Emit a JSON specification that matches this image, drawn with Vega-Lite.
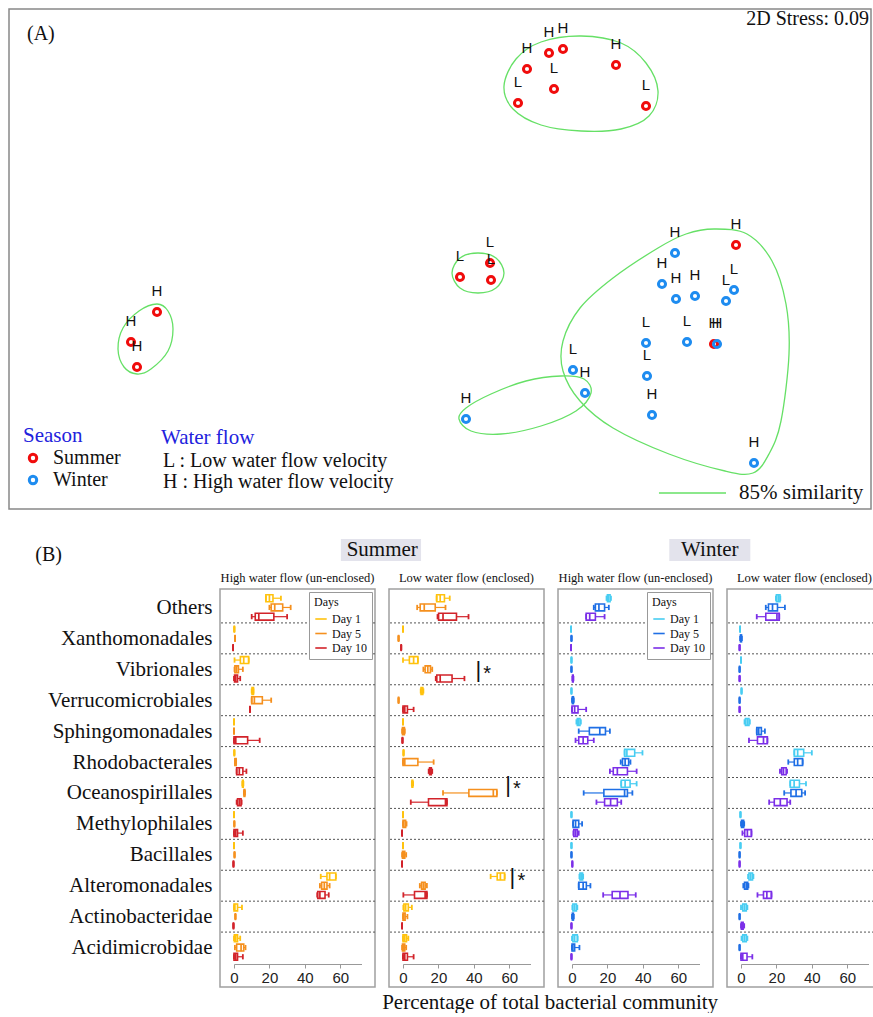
{
"$schema":"https://vega.github.io/schema/vega-lite/v6.json",
"padding":{"left":8,"top":8,"right":0,"bottom":0},
"background":"white",
"config":{"font":"Liberation Serif"},
"datasets":{
"taxa":[{"t":"Others"},{"t":"Xanthomonadales"},{"t":"Vibrionales"},{"t":"Verrucomicrobiales"},{"t":"Sphingomonadales"},{"t":"Rhodobacterales"},{"t":"Oceanospirillales"},{"t":"Methylophilales"},{"t":"Bacillales"},{"t":"Alteromonadales"},{"t":"Actinobacteridae"},{"t":"Acidimicrobidae"}],
"header":[{"lab":"(B)","pos":4.6},{"lab":"Summer","pos":43.3,"x1":38.5,"x2":47.8},{"lab":"Winter","pos":81.3,"x1":76.6,"x2":86.0}],
"annot":[{"lab":"(A)","x":-2.065,"y":1.125,"k":"L"},{"lab":"L : Low water flow velocity","x":-1.385,"y":-1.01,"k":"L"},{"lab":"H : High water flow velocity","x":-1.385,"y":-1.115,"k":"L"},{"lab":"Water flow","x":-1.395,"y":-0.895,"k":"B"},{"lab":"2D Stress: 0.09","x":2.145,"y":1.2,"k":"R"}],
"nmds":[
{"s":"Summer","f":"H","x":0.435,"y":0.95},{"s":"Summer","f":"H","x":0.545,"y":1.03},{"s":"Summer","f":"H","x":0.615,"y":1.05},{"s":"Summer","f":"H","x":0.88,"y":0.97},{"s":"Summer","f":"L","x":0.57,"y":0.85},{"s":"Summer","f":"L","x":0.39,"y":0.78},{"s":"Summer","f":"L","x":1.03,"y":0.765},
{"s":"Summer","f":"H","x":-1.415,"y":-0.265},{"s":"Summer","f":"H","x":-1.545,"y":-0.415},{"s":"Summer","f":"H","x":-1.515,"y":-0.54},
{"s":"Summer","f":"L","x":0.25,"y":-0.02},{"s":"Summer","f":"L","x":0.10,"y":-0.09},{"s":"Summer","f":"L","x":0.255,"y":-0.105},
{"s":"Summer","f":"H","x":1.48,"y":0.07},{"s":"Summer","f":"H","x":1.37,"y":-0.425},
{"s":"Winter","f":"H","x":1.175,"y":0.03},{"s":"Winter","f":"H","x":1.11,"y":-0.125},{"s":"Winter","f":"H","x":1.18,"y":-0.20},{"s":"Winter","f":"H","x":1.275,"y":-0.185},{"s":"Winter","f":"L","x":1.47,"y":-0.155},{"s":"Winter","f":"L","x":1.43,"y":-0.21},{"s":"Winter","f":"L","x":1.03,"y":-0.42},{"s":"Winter","f":"L","x":1.235,"y":-0.415},{"s":"Winter","f":"H","x":1.385,"y":-0.425},{"s":"Winter","f":"L","x":1.035,"y":-0.585},{"s":"Winter","f":"L","x":0.665,"y":-0.555},{"s":"Winter","f":"H","x":0.725,"y":-0.67},{"s":"Winter","f":"H","x":1.06,"y":-0.78},{"s":"Winter","f":"H","x":0.13,"y":-0.80},{"s":"Winter","f":"H","x":1.57,"y":-1.02}],
"hulls":[
{"h":1,"o":1,"x":0.32,"y":0.865,"s":"85% similarity"},{"h":1,"o":2,"x":0.38,"y":1.0,"s":"85% similarity"},{"h":1,"o":3,"x":0.505,"y":1.085,"s":"85% similarity"},{"h":1,"o":4,"x":0.705,"y":1.115,"s":"85% similarity"},{"h":1,"o":5,"x":0.905,"y":1.08,"s":"85% similarity"},{"h":1,"o":6,"x":1.03,"y":0.98,"s":"85% similarity"},{"h":1,"o":7,"x":1.09,"y":0.84,"s":"85% similarity"},{"h":1,"o":8,"x":1.045,"y":0.715,"s":"85% similarity"},{"h":1,"o":9,"x":0.905,"y":0.65,"s":"85% similarity"},{"h":1,"o":10,"x":0.705,"y":0.64,"s":"85% similarity"},{"h":1,"o":11,"x":0.505,"y":0.67,"s":"85% similarity"},{"h":1,"o":12,"x":0.365,"y":0.75,"s":"85% similarity"},
{"h":2,"o":1,"x":-1.415,"y":-0.225,"s":"85% similarity"},{"h":2,"o":2,"x":-1.36,"y":-0.26,"s":"85% similarity"},{"h":2,"o":3,"x":-1.335,"y":-0.35,"s":"85% similarity"},{"h":2,"o":4,"x":-1.36,"y":-0.46,"s":"85% similarity"},{"h":2,"o":5,"x":-1.445,"y":-0.55,"s":"85% similarity"},{"h":2,"o":6,"x":-1.515,"y":-0.575,"s":"85% similarity"},{"h":2,"o":7,"x":-1.58,"y":-0.54,"s":"85% similarity"},{"h":2,"o":8,"x":-1.61,"y":-0.45,"s":"85% similarity"},{"h":2,"o":9,"x":-1.585,"y":-0.345,"s":"85% similarity"},{"h":2,"o":10,"x":-1.505,"y":-0.26,"s":"85% similarity"},
{"h":3,"o":1,"x":0.19,"y":0.03,"s":"85% similarity"},{"h":3,"o":2,"x":0.28,"y":0.005,"s":"85% similarity"},{"h":3,"o":3,"x":0.32,"y":-0.07,"s":"85% similarity"},{"h":3,"o":4,"x":0.28,"y":-0.145,"s":"85% similarity"},{"h":3,"o":5,"x":0.19,"y":-0.17,"s":"85% similarity"},{"h":3,"o":6,"x":0.10,"y":-0.145,"s":"85% similarity"},{"h":3,"o":7,"x":0.06,"y":-0.07,"s":"85% similarity"},{"h":3,"o":8,"x":0.10,"y":0.005,"s":"85% similarity"},
{"h":4,"o":1,"x":1.37,"y":0.15,"s":"85% similarity"},{"h":4,"o":2,"x":1.535,"y":0.125,"s":"85% similarity"},{"h":4,"o":3,"x":1.66,"y":-0.01,"s":"85% similarity"},{"h":4,"o":4,"x":1.73,"y":-0.225,"s":"85% similarity"},{"h":4,"o":5,"x":1.745,"y":-0.475,"s":"85% similarity"},{"h":4,"o":6,"x":1.705,"y":-0.81,"s":"85% similarity"},{"h":4,"o":7,"x":1.645,"y":-0.975,"s":"85% similarity"},{"h":4,"o":8,"x":1.565,"y":-1.07,"s":"85% similarity"},{"h":4,"o":9,"x":1.425,"y":-1.06,"s":"85% similarity"},{"h":4,"o":10,"x":1.145,"y":-0.975,"s":"85% similarity"},{"h":4,"o":11,"x":0.865,"y":-0.845,"s":"85% similarity"},{"h":4,"o":12,"x":0.70,"y":-0.71,"s":"85% similarity"},{"h":4,"o":13,"x":0.615,"y":-0.56,"s":"85% similarity"},{"h":4,"o":14,"x":0.615,"y":-0.41,"s":"85% similarity"},{"h":4,"o":15,"x":0.70,"y":-0.245,"s":"85% similarity"},{"h":4,"o":16,"x":0.865,"y":-0.095,"s":"85% similarity"},{"h":4,"o":17,"x":1.09,"y":0.055,"s":"85% similarity"},{"h":4,"o":18,"x":1.23,"y":0.125,"s":"85% similarity"},
{"h":5,"o":1,"x":0.095,"y":-0.80,"s":"85% similarity"},{"h":5,"o":2,"x":0.155,"y":-0.86,"s":"85% similarity"},{"h":5,"o":3,"x":0.305,"y":-0.875,"s":"85% similarity"},{"h":5,"o":4,"x":0.505,"y":-0.835,"s":"85% similarity"},{"h":5,"o":5,"x":0.68,"y":-0.76,"s":"85% similarity"},{"h":5,"o":6,"x":0.755,"y":-0.67,"s":"85% similarity"},{"h":5,"o":7,"x":0.72,"y":-0.60,"s":"85% similarity"},{"h":5,"o":8,"x":0.605,"y":-0.585,"s":"85% similarity"},{"h":5,"o":9,"x":0.43,"y":-0.61,"s":"85% similarity"},{"h":5,"o":10,"x":0.255,"y":-0.675,"s":"85% similarity"},{"h":5,"o":11,"x":0.13,"y":-0.745,"s":"85% similarity"}],
"sig":[{"t":"Vibrionales","d":"Day 5","x":42.5},{"t":"Oceanospirillales","d":"Day 1","x":59.3},{"t":"Alteromonadales","d":"Day 1","x":61.8}],
"boxes":[
{"p":"SH","t":"Others","d":"Day 1","lo":18,"q1":18,"md":20,"q3":22,"hi":26.5},
{"p":"SH","t":"Others","d":"Day 5","lo":20,"q1":21,"md":23,"q3":27.5,"hi":32},
{"p":"SH","t":"Others","d":"Day 10","lo":10,"q1":12,"md":14,"q3":22.5,"hi":30},
{"p":"SH","t":"Xanthomonadales","d":"Day 1","lo":0.2,"q1":0.2,"md":0.2,"q3":0.2,"hi":0.2},
{"p":"SH","t":"Xanthomonadales","d":"Day 5","lo":0.6,"q1":0.6,"md":0.6,"q3":0.6,"hi":0.6},
{"p":"SH","t":"Xanthomonadales","d":"Day 10","lo":-0.5,"q1":-0.5,"md":-0.5,"q3":-0.5,"hi":-0.5},
{"p":"SH","t":"Vibrionales","d":"Day 1","lo":0.3,"q1":3.6,"md":5.5,"q3":8.3,"hi":8.3},
{"p":"SH","t":"Vibrionales","d":"Day 5","lo":0.3,"q1":0.5,"md":1.5,"q3":2.5,"hi":5},
{"p":"SH","t":"Vibrionales","d":"Day 10","lo":0,"q1":0.3,"md":1,"q3":2,"hi":3.5},
{"p":"SH","t":"Verrucomicrobiales","d":"Day 1","lo":10,"q1":10.2,"md":10.5,"q3":11,"hi":11},
{"p":"SH","t":"Verrucomicrobiales","d":"Day 5","lo":10,"q1":10,"md":11.5,"q3":16,"hi":21},
{"p":"SH","t":"Verrucomicrobiales","d":"Day 10","lo":9,"q1":9,"md":9,"q3":9,"hi":9},
{"p":"SH","t":"Sphingomonadales","d":"Day 1","lo":0,"q1":0,"md":0,"q3":0,"hi":0},
{"p":"SH","t":"Sphingomonadales","d":"Day 5","lo":0,"q1":0,"md":0,"q3":0,"hi":0},
{"p":"SH","t":"Sphingomonadales","d":"Day 10","lo":0,"q1":0,"md":1,"q3":7.7,"hi":14.5},
{"p":"SH","t":"Rhodobacterales","d":"Day 1","lo":0.2,"q1":0.2,"md":0.2,"q3":0.2,"hi":0.2},
{"p":"SH","t":"Rhodobacterales","d":"Day 5","lo":0.5,"q1":0.5,"md":0.8,"q3":1.2,"hi":1.2},
{"p":"SH","t":"Rhodobacterales","d":"Day 10","lo":1.5,"q1":1.5,"md":3,"q3":5,"hi":7},
{"p":"SH","t":"Oceanospirillales","d":"Day 1","lo":4.7,"q1":4.8,"md":5,"q3":5.2,"hi":5.3},
{"p":"SH","t":"Oceanospirillales","d":"Day 5","lo":5.6,"q1":5.7,"md":5.9,"q3":6.1,"hi":6.2},
{"p":"SH","t":"Oceanospirillales","d":"Day 10","lo":1.5,"q1":2,"md":3,"q3":4,"hi":4.3},
{"p":"SH","t":"Methylophilales","d":"Day 1","lo":0,"q1":0,"md":0,"q3":0,"hi":0},
{"p":"SH","t":"Methylophilales","d":"Day 5","lo":0.2,"q1":0.2,"md":0.2,"q3":0.2,"hi":0.2},
{"p":"SH","t":"Methylophilales","d":"Day 10","lo":0,"q1":0,"md":1,"q3":2,"hi":5},
{"p":"SH","t":"Bacillales","d":"Day 1","lo":0,"q1":0,"md":0,"q3":0,"hi":0},
{"p":"SH","t":"Bacillales","d":"Day 5","lo":0.3,"q1":0.3,"md":0.3,"q3":0.3,"hi":0.3},
{"p":"SH","t":"Bacillales","d":"Day 10","lo":-0.3,"q1":-0.3,"md":-0.3,"q3":-0.3,"hi":-0.3},
{"p":"SH","t":"Alteromonadales","d":"Day 1","lo":49,"q1":52.5,"md":54,"q3":57.5,"hi":57.5},
{"p":"SH","t":"Alteromonadales","d":"Day 5","lo":48.5,"q1":49.5,"md":51,"q3":52.5,"hi":54},
{"p":"SH","t":"Alteromonadales","d":"Day 10","lo":47,"q1":47.3,"md":48.5,"q3":51.4,"hi":53.5},
{"p":"SH","t":"Actinobacteridae","d":"Day 1","lo":0,"q1":0,"md":0.5,"q3":2,"hi":4.5},
{"p":"SH","t":"Actinobacteridae","d":"Day 5","lo":0.8,"q1":0.8,"md":0.8,"q3":0.8,"hi":0.8},
{"p":"SH","t":"Actinobacteridae","d":"Day 10","lo":-0.3,"q1":-0.3,"md":-0.3,"q3":-0.3,"hi":-0.3},
{"p":"SH","t":"Acidimicrobidae","d":"Day 1","lo":0,"q1":0.2,"md":1,"q3":2,"hi":3.5},
{"p":"SH","t":"Acidimicrobidae","d":"Day 5","lo":0.5,"q1":1.5,"md":4,"q3":5.5,"hi":6.5},
{"p":"SH","t":"Acidimicrobidae","d":"Day 10","lo":0,"q1":0,"md":1,"q3":2,"hi":5},
{"p":"SL","t":"Others","d":"Day 1","lo":19,"q1":19,"md":21,"q3":23.4,"hi":26.4},
{"p":"SL","t":"Others","d":"Day 5","lo":8,"q1":9.7,"md":12,"q3":18.2,"hi":24},
{"p":"SL","t":"Others","d":"Day 10","lo":19.5,"q1":20.1,"md":22.6,"q3":30.2,"hi":37},
{"p":"SL","t":"Xanthomonadales","d":"Day 1","lo":0,"q1":0,"md":0,"q3":0,"hi":0},
{"p":"SL","t":"Xanthomonadales","d":"Day 5","lo":-2.5,"q1":-2.5,"md":-2.5,"q3":-2.5,"hi":-2.5},
{"p":"SL","t":"Xanthomonadales","d":"Day 10","lo":-1,"q1":-1,"md":-1,"q3":-1,"hi":-1},
{"p":"SL","t":"Vibrionales","d":"Day 1","lo":0,"q1":3.6,"md":6,"q3":8.4,"hi":8.4},
{"p":"SL","t":"Vibrionales","d":"Day 5","lo":11.5,"q1":12.5,"md":14,"q3":15.5,"hi":16.5},
{"p":"SL","t":"Vibrionales","d":"Day 10","lo":18.5,"q1":19.1,"md":21,"q3":27.7,"hi":34.7},
{"p":"SL","t":"Verrucomicrobiales","d":"Day 1","lo":10,"q1":10.2,"md":10.6,"q3":11.2,"hi":11.5},
{"p":"SL","t":"Verrucomicrobiales","d":"Day 5","lo":-2.5,"q1":-2.5,"md":-2.5,"q3":-2.5,"hi":-2.5},
{"p":"SL","t":"Verrucomicrobiales","d":"Day 10","lo":0,"q1":0,"md":1,"q3":2.5,"hi":6},
{"p":"SL","t":"Sphingomonadales","d":"Day 1","lo":0,"q1":0,"md":0,"q3":0,"hi":0},
{"p":"SL","t":"Sphingomonadales","d":"Day 5","lo":-0.5,"q1":-0.3,"md":0.2,"q3":0.8,"hi":1},
{"p":"SL","t":"Sphingomonadales","d":"Day 10","lo":-0.3,"q1":-0.3,"md":-0.3,"q3":-0.3,"hi":-0.3},
{"p":"SL","t":"Rhodobacterales","d":"Day 1","lo":0.3,"q1":0.3,"md":0.3,"q3":0.3,"hi":0.3},
{"p":"SL","t":"Rhodobacterales","d":"Day 5","lo":0,"q1":0,"md":1,"q3":8.4,"hi":17.3},
{"p":"SL","t":"Rhodobacterales","d":"Day 10","lo":14.5,"q1":15,"md":15.4,"q3":16,"hi":16.5},
{"p":"SL","t":"Oceanospirillales","d":"Day 1","lo":5,"q1":5.1,"md":5.3,"q3":5.5,"hi":5.7},
{"p":"SL","t":"Oceanospirillales","d":"Day 5","lo":22.6,"q1":37.2,"md":51,"q3":53,"hi":53},
{"p":"SL","t":"Oceanospirillales","d":"Day 10","lo":4.4,"q1":14.4,"md":24,"q3":24.8,"hi":24.8},
{"p":"SL","t":"Methylophilales","d":"Day 1","lo":0,"q1":0,"md":0,"q3":0,"hi":0},
{"p":"SL","t":"Methylophilales","d":"Day 5","lo":0,"q1":0,"md":0.5,"q3":1.5,"hi":2},
{"p":"SL","t":"Methylophilales","d":"Day 10","lo":-0.5,"q1":-0.5,"md":-0.5,"q3":-0.5,"hi":-0.5},
{"p":"SL","t":"Bacillales","d":"Day 1","lo":0,"q1":0,"md":0,"q3":0,"hi":0},
{"p":"SL","t":"Bacillales","d":"Day 5","lo":-0.5,"q1":-0.3,"md":0.2,"q3":1,"hi":1.8},
{"p":"SL","t":"Bacillales","d":"Day 10","lo":-0.5,"q1":-0.5,"md":-0.5,"q3":-0.5,"hi":-0.5},
{"p":"SL","t":"Alteromonadales","d":"Day 1","lo":49.5,"q1":53.2,"md":55,"q3":57.4,"hi":57.4},
{"p":"SL","t":"Alteromonadales","d":"Day 5","lo":9.5,"q1":10.5,"md":11.5,"q3":12.5,"hi":13.5},
{"p":"SL","t":"Alteromonadales","d":"Day 10","lo":0.2,"q1":6.5,"md":12.5,"q3":13.5,"hi":13.5},
{"p":"SL","t":"Actinobacteridae","d":"Day 1","lo":0.2,"q1":0.5,"md":1.5,"q3":3,"hi":5},
{"p":"SL","t":"Actinobacteridae","d":"Day 5","lo":0,"q1":0,"md":0.5,"q3":1.2,"hi":2.5},
{"p":"SL","t":"Actinobacteridae","d":"Day 10","lo":-0.5,"q1":-0.5,"md":-0.5,"q3":-0.5,"hi":-0.5},
{"p":"SL","t":"Acidimicrobidae","d":"Day 1","lo":0,"q1":0,"md":1,"q3":2,"hi":3},
{"p":"SL","t":"Acidimicrobidae","d":"Day 5","lo":-0.5,"q1":-0.3,"md":0.3,"q3":1,"hi":1.8},
{"p":"SL","t":"Acidimicrobidae","d":"Day 10","lo":0,"q1":0,"md":1,"q3":2.5,"hi":6},
{"p":"WH","t":"Others","d":"Day 1","lo":19.5,"q1":20,"md":20.5,"q3":21.5,"hi":22},
{"p":"WH","t":"Others","d":"Day 5","lo":12.3,"q1":13.2,"md":15.2,"q3":18.4,"hi":20.8},
{"p":"WH","t":"Others","d":"Day 10","lo":8,"q1":8,"md":10,"q3":13.2,"hi":18.4},
{"p":"WH","t":"Xanthomonadales","d":"Day 1","lo":-0.5,"q1":-0.5,"md":-0.5,"q3":-0.5,"hi":-0.5},
{"p":"WH","t":"Xanthomonadales","d":"Day 5","lo":-0.3,"q1":-0.3,"md":-0.3,"q3":-0.3,"hi":-0.3},
{"p":"WH","t":"Xanthomonadales","d":"Day 10","lo":-0.5,"q1":-0.5,"md":-0.5,"q3":-0.5,"hi":-0.5},
{"p":"WH","t":"Vibrionales","d":"Day 1","lo":-0.3,"q1":-0.3,"md":-0.3,"q3":-0.3,"hi":-0.3},
{"p":"WH","t":"Vibrionales","d":"Day 5","lo":-0.3,"q1":-0.3,"md":-0.3,"q3":-0.3,"hi":-0.3},
{"p":"WH","t":"Vibrionales","d":"Day 10","lo":0.2,"q1":0.3,"md":0.5,"q3":0.7,"hi":0.8},
{"p":"WH","t":"Verrucomicrobiales","d":"Day 1","lo":-0.3,"q1":-0.3,"md":-0.3,"q3":-0.3,"hi":-0.3},
{"p":"WH","t":"Verrucomicrobiales","d":"Day 5","lo":0,"q1":0.2,"md":0.5,"q3":0.8,"hi":1},
{"p":"WH","t":"Verrucomicrobiales","d":"Day 10","lo":0,"q1":0,"md":1.5,"q3":3.4,"hi":8},
{"p":"WH","t":"Sphingomonadales","d":"Day 1","lo":2.5,"q1":3,"md":3.5,"q3":4.5,"hi":5},
{"p":"WH","t":"Sphingomonadales","d":"Day 5","lo":3.8,"q1":9.8,"md":15.7,"q3":18.9,"hi":21.4},
{"p":"WH","t":"Sphingomonadales","d":"Day 10","lo":2,"q1":3.8,"md":6.3,"q3":8.9,"hi":12.3},
{"p":"WH","t":"Rhodobacterales","d":"Day 1","lo":29.7,"q1":29.7,"md":31,"q3":35.4,"hi":39.8},
{"p":"WH","t":"Rhodobacterales","d":"Day 5","lo":27.5,"q1":28.5,"md":30,"q3":32,"hi":33},
{"p":"WH","t":"Rhodobacterales","d":"Day 10","lo":21.4,"q1":23.3,"md":25.6,"q3":31.3,"hi":36.5},
{"p":"WH","t":"Oceanospirillales","d":"Day 1","lo":27.8,"q1":27.8,"md":30,"q3":32.8,"hi":36.5},
{"p":"WH","t":"Oceanospirillales","d":"Day 5","lo":6.6,"q1":18,"md":29.7,"q3":31.3,"hi":34.1},
{"p":"WH","t":"Oceanospirillales","d":"Day 10","lo":13.8,"q1":18.4,"md":21.8,"q3":25.6,"hi":27.8},
{"p":"WH","t":"Methylophilales","d":"Day 1","lo":-0.3,"q1":-0.3,"md":-0.3,"q3":-0.3,"hi":-0.3},
{"p":"WH","t":"Methylophilales","d":"Day 5","lo":0.6,"q1":0.6,"md":2,"q3":3.8,"hi":5.7},
{"p":"WH","t":"Methylophilales","d":"Day 10","lo":0.8,"q1":1,"md":2,"q3":3,"hi":3.8},
{"p":"WH","t":"Bacillales","d":"Day 1","lo":-0.3,"q1":-0.3,"md":-0.3,"q3":-0.3,"hi":-0.3},
{"p":"WH","t":"Bacillales","d":"Day 5","lo":-0.3,"q1":-0.3,"md":-0.3,"q3":-0.3,"hi":-0.3},
{"p":"WH","t":"Bacillales","d":"Day 10","lo":0.2,"q1":0.2,"md":0.2,"q3":0.2,"hi":0.2},
{"p":"WH","t":"Alteromonadales","d":"Day 1","lo":4.2,"q1":4.5,"md":5.2,"q3":6,"hi":6.3},
{"p":"WH","t":"Alteromonadales","d":"Day 5","lo":3.8,"q1":3.8,"md":6.3,"q3":8.1,"hi":10.4},
{"p":"WH","t":"Alteromonadales","d":"Day 10","lo":17.6,"q1":22.7,"md":27.1,"q3":31.6,"hi":36},
{"p":"WH","t":"Actinobacteridae","d":"Day 1","lo":0.2,"q1":0.5,"md":1.5,"q3":2.5,"hi":3},
{"p":"WH","t":"Actinobacteridae","d":"Day 5","lo":0,"q1":0.2,"md":0.5,"q3":0.8,"hi":1},
{"p":"WH","t":"Actinobacteridae","d":"Day 10","lo":-0.3,"q1":-0.3,"md":-0.3,"q3":-0.3,"hi":-0.3},
{"p":"WH","t":"Acidimicrobidae","d":"Day 1","lo":0,"q1":0.5,"md":1.5,"q3":3,"hi":3.2},
{"p":"WH","t":"Acidimicrobidae","d":"Day 5","lo":0,"q1":0,"md":0.5,"q3":1.5,"hi":4.2},
{"p":"WH","t":"Acidimicrobidae","d":"Day 10","lo":-0.3,"q1":-0.3,"md":-0.3,"q3":-0.3,"hi":-0.3},
{"p":"WL","t":"Others","d":"Day 1","lo":19.7,"q1":20,"md":21,"q3":22,"hi":22.2},
{"p":"WL","t":"Others","d":"Day 5","lo":14,"q1":15.5,"md":17.8,"q3":20.6,"hi":24.8},
{"p":"WL","t":"Others","d":"Day 10","lo":8.9,"q1":14,"md":20.3,"q3":21.6,"hi":21.6},
{"p":"WL","t":"Xanthomonadales","d":"Day 1","lo":-0.5,"q1":-0.5,"md":-0.5,"q3":-0.5,"hi":-0.5},
{"p":"WL","t":"Xanthomonadales","d":"Day 5","lo":-0.5,"q1":-0.3,"md":0,"q3":0.3,"hi":0.5},
{"p":"WL","t":"Xanthomonadales","d":"Day 10","lo":-0.8,"q1":-0.8,"md":-0.8,"q3":-0.8,"hi":-0.8},
{"p":"WL","t":"Vibrionales","d":"Day 1","lo":0,"q1":0,"md":0,"q3":0,"hi":0},
{"p":"WL","t":"Vibrionales","d":"Day 5","lo":-0.8,"q1":-0.8,"md":-0.8,"q3":-0.8,"hi":-0.8},
{"p":"WL","t":"Vibrionales","d":"Day 10","lo":-0.8,"q1":-0.8,"md":-0.8,"q3":-0.8,"hi":-0.8},
{"p":"WL","t":"Verrucomicrobiales","d":"Day 1","lo":0.3,"q1":0.3,"md":0.3,"q3":0.3,"hi":0.3},
{"p":"WL","t":"Verrucomicrobiales","d":"Day 5","lo":-0.8,"q1":-0.8,"md":-0.8,"q3":-0.8,"hi":-0.8},
{"p":"WL","t":"Verrucomicrobiales","d":"Day 10","lo":-0.8,"q1":-0.8,"md":-0.8,"q3":-0.8,"hi":-0.8},
{"p":"WL","t":"Sphingomonadales","d":"Day 1","lo":2,"q1":2.5,"md":3.5,"q3":4.5,"hi":5},
{"p":"WL","t":"Sphingomonadales","d":"Day 5","lo":8.9,"q1":8.9,"md":10,"q3":11.5,"hi":13.5},
{"p":"WL","t":"Sphingomonadales","d":"Day 10","lo":4.5,"q1":9.3,"md":12.7,"q3":14.9,"hi":14.9},
{"p":"WL","t":"Rhodobacterales","d":"Day 1","lo":30.1,"q1":30.1,"md":32,"q3":35.4,"hi":40},
{"p":"WL","t":"Rhodobacterales","d":"Day 5","lo":26.7,"q1":30.1,"md":32,"q3":34.8,"hi":34.8},
{"p":"WL","t":"Rhodobacterales","d":"Day 10","lo":22,"q1":23,"md":24,"q3":25.5,"hi":26},
{"p":"WL","t":"Oceanospirillales","d":"Day 1","lo":27.8,"q1":27.8,"md":30,"q3":33,"hi":36.7},
{"p":"WL","t":"Oceanospirillales","d":"Day 5","lo":24.4,"q1":28.2,"md":31.1,"q3":34.3,"hi":36.2},
{"p":"WL","t":"Oceanospirillales","d":"Day 10","lo":15.9,"q1":18.8,"md":22.2,"q3":26,"hi":27.8},
{"p":"WL","t":"Methylophilales","d":"Day 1","lo":-0.3,"q1":-0.3,"md":-0.3,"q3":-0.3,"hi":-0.3},
{"p":"WL","t":"Methylophilales","d":"Day 5","lo":0,"q1":0.3,"md":1,"q3":1.5,"hi":1.8},
{"p":"WL","t":"Methylophilales","d":"Day 10","lo":0.8,"q1":2.1,"md":3.6,"q3":5.9,"hi":5.9},
{"p":"WL","t":"Bacillales","d":"Day 1","lo":-0.3,"q1":-0.3,"md":-0.3,"q3":-0.3,"hi":-0.3},
{"p":"WL","t":"Bacillales","d":"Day 5","lo":-0.8,"q1":-0.8,"md":-0.8,"q3":-0.8,"hi":-0.8},
{"p":"WL","t":"Bacillales","d":"Day 10","lo":-0.8,"q1":-0.8,"md":-0.8,"q3":-0.8,"hi":-0.8},
{"p":"WL","t":"Alteromonadales","d":"Day 1","lo":4,"q1":4.5,"md":5.5,"q3":6.5,"hi":7},
{"p":"WL","t":"Alteromonadales","d":"Day 5","lo":1.3,"q1":2,"md":3,"q3":3.8,"hi":4.2},
{"p":"WL","t":"Alteromonadales","d":"Day 10","lo":9.3,"q1":12.7,"md":14.6,"q3":17.2,"hi":17.2},
{"p":"WL","t":"Actinobacteridae","d":"Day 1","lo":0,"q1":1,"md":2,"q3":3,"hi":3.6},
{"p":"WL","t":"Actinobacteridae","d":"Day 5","lo":-0.8,"q1":-0.8,"md":-0.8,"q3":-0.8,"hi":-0.8},
{"p":"WL","t":"Actinobacteridae","d":"Day 10","lo":0,"q1":0.2,"md":0.8,"q3":1.2,"hi":1.8},
{"p":"WL","t":"Acidimicrobidae","d":"Day 1","lo":0.3,"q1":1,"md":2,"q3":3,"hi":3.6},
{"p":"WL","t":"Acidimicrobidae","d":"Day 5","lo":-0.8,"q1":-0.8,"md":-0.8,"q3":-0.8,"hi":-0.8},
{"p":"WL","t":"Acidimicrobidae","d":"Day 10","lo":0,"q1":0,"md":1,"q3":3.4,"hi":6.4}
]},
"spacing":29,
"vconcat":[
{
"width":862,"height":500,
"view":{"stroke":"#888888","strokeWidth":1.5},
"layer":[
{"data":{"name":"hulls"},"mark":{"type":"line","interpolate":"cardinal-closed","strokeWidth":1.3},
"encoding":{
"x":{"field":"x","type":"quantitative","scale":{"domain":[-2.155,2.155],"nice":false,"zero":false},"axis":null},
"y":{"field":"y","type":"quantitative","scale":{"domain":[-1.25,1.25],"nice":false,"zero":false},"axis":null},
"detail":{"field":"h","type":"nominal"},
"order":{"field":"o","type":"quantitative"},
"stroke":{"field":"s","type":"nominal","scale":{"range":["#66e066"]},"legend":{"orient":"none","legendX":649,"legendY":449.5,"title":null,"labelFont":"Liberation Serif","labelFontSize":21,"labelColor":"#111","symbolType":"stroke","symbolSize":4500,"symbolStrokeWidth":1.5,"labelOffset":12,"padding":0}}}},
{"data":{"name":"nmds"},"mark":{"type":"point","filled":false,"strokeWidth":3,"size":50,"opacity":1},
"encoding":{
"x":{"field":"x","type":"quantitative"},
"y":{"field":"y","type":"quantitative"},
"color":{"field":"s","type":"nominal","scale":{"domain":["Summer","Winter"],"range":["#f00c0c","#1e8cf0"]},"legend":{"orient":"none","legendX":14,"legendY":416,"title":"Season","titleColor":"#2222dd","titleFont":"Liberation Serif","titleFontSize":21,"titleFontWeight":"normal","labelFont":"Liberation Serif","labelFontSize":20,"labelColor":"#111","symbolType":"circle","symbolStrokeWidth":3,"symbolSize":55,"rowPadding":2,"titlePadding":2,"labelOffset":10,"padding":0}}}},
{"data":{"name":"nmds"},"mark":{"type":"text","dy":-21,"font":"Liberation Sans","fontSize":15,"color":"#111"},
"encoding":{"x":{"field":"x","type":"quantitative"},"y":{"field":"y","type":"quantitative"},"text":{"field":"f"}}},
{"data":{"name":"annot"},"transform":[{"filter":"datum.k == 'L'"}],"mark":{"type":"text","align":"left","baseline":"middle","font":"Liberation Serif","fontSize":20,"color":"#111"},
"encoding":{"x":{"field":"x","type":"quantitative"},"y":{"field":"y","type":"quantitative"},"text":{"field":"lab"}}},
{"data":{"name":"annot"},"transform":[{"filter":"datum.k == 'B'"}],"mark":{"type":"text","align":"left","baseline":"middle","font":"Liberation Serif","fontSize":21,"color":"#2222dd"},
"encoding":{"x":{"field":"x","type":"quantitative"},"y":{"field":"y","type":"quantitative"},"text":{"field":"lab"}}},
{"data":{"name":"annot"},"transform":[{"filter":"datum.k == 'R'"}],"mark":{"type":"text","align":"right","baseline":"middle","font":"Liberation Serif","fontSize":20,"color":"#111"},
"encoding":{"x":{"field":"x","type":"quantitative"},"y":{"field":"y","type":"quantitative"},"text":{"field":"lab"}}}
]},
{
"spacing":5,
"vconcat":[
{"width":862,"height":22,"view":{"stroke":null},"data":{"name":"header"},
"layer":[
{"transform":[{"filter":"isValid(datum.x1)"}],"mark":{"type":"rect","color":"#e3e3ec"},
"encoding":{"x":{"field":"x1","type":"quantitative","scale":{"domain":[0,100],"nice":false,"zero":false},"axis":null},"x2":{"field":"x2"}}},
{"transform":[{"filter":"isValid(datum.x1)"}],"mark":{"type":"text","font":"Liberation Serif","fontSize":21,"color":"#111","baseline":"middle"},
"encoding":{"x":{"field":"pos","type":"quantitative"},"text":{"field":"lab"}}},
{"transform":[{"filter":"!isValid(datum.x1)"}],"mark":{"type":"text","font":"Liberation Serif","fontSize":20,"color":"#111","baseline":"middle","dy":5},
"encoding":{"x":{"field":"pos","type":"quantitative"},"text":{"field":"lab"}}}
]},
{
"spacing":6,
"title":{"text":"Percentage of total bacterial community","orient":"bottom","anchor":"middle","frame":"bounds","dx":104,"offset":4,"font":"Liberation Serif","fontSize":21,"fontWeight":"normal","color":"#111"},
"hconcat":[
{"width":1,"height":398,"view":{"stroke":null},"data":{"name":"taxa"},
"mark":{"type":"text","text":""},
"encoding":{"y":{"field":"t","type":"nominal","scale":{"domain":["Others","Xanthomonadales","Vibrionales","Verrucomicrobiales","Sphingomonadales","Rhodobacterales","Oceanospirillales","Methylophilales","Bacillales","Alteromonadales","Actinobacteridae","Acidimicrobidae"],"range":[3,374],"paddingInner":0,"paddingOuter":0},"axis":{"orient":"right","title":null,"domain":false,"ticks":false,"labelAlign":"right","labelPadding":202,"labelFont":"Liberation Serif","labelFontSize":21,"labelColor":"#111","labelLimit":260}}}},
{
"spacing":10,
"resolve":{"scale":{"color":"independent"},"legend":{"color":"independent"}},
"hconcat":[
{"width":155,"height":398,
"title":{"text":"High water flow (un-enclosed)","frame":"group","anchor":"middle","offset":5,"font":"Liberation Serif","fontSize":12.5,"fontWeight":"normal","color":"#111"},
"view":{"stroke":"#a0a0a0","strokeWidth":1.5},
"layer":[
{"data":{"name":"taxa"},"transform":[{"filter":"datum.t != 'Others'"}],"mark":{"type":"rule","strokeDash":[2,2],"color":"#555555","strokeWidth":1},
"encoding":{"y":{"field":"t","type":"nominal","bandPosition":0,"scale":{"domain":["Others","Xanthomonadales","Vibrionales","Verrucomicrobiales","Sphingomonadales","Rhodobacterales","Oceanospirillales","Methylophilales","Bacillales","Alteromonadales","Actinobacteridae","Acidimicrobidae"],"range":[3,374],"paddingInner":0,"paddingOuter":0},"axis":null}}},
{"data":{"name":"boxes"},"transform":[{"filter":"datum.p == 'SH'"}],
"encoding":{
"y":{"field":"t","type":"nominal","scale":{"domain":["Others","Xanthomonadales","Vibrionales","Verrucomicrobiales","Sphingomonadales","Rhodobacterales","Oceanospirillales","Methylophilales","Bacillales","Alteromonadales","Actinobacteridae","Acidimicrobidae"],"range":[3,374],"paddingInner":0,"paddingOuter":0},"axis":null},
"yOffset":{"field":"d","type":"nominal","scale":{"domain":["Day 1","Day 5","Day 10"],"paddingInner":0.25,"paddingOuter":0.3}},
"color":{"field":"d","type":"nominal","scale":{"domain":["Day 1","Day 5","Day 10"],"range":["#FFC20E","#F5901E","#D2232A"]},"legend":{"orient":"top-right","offset":3,"title":"Days","titleFont":"Liberation Serif","titleFontSize":12,"titleFontWeight":"normal","titleColor":"#111","labelFont":"Liberation Serif","labelFontSize":12,"labelColor":"#111","symbolType":"stroke","symbolSize":130,"symbolStrokeWidth":1.6,"fillColor":"white","strokeColor":"#999999","padding":5,"rowPadding":1.5,"titlePadding":3,"labelOffset":4}}},
"layer":[
{"mark":{"type":"rule","strokeWidth":1.2},"encoding":{"x":{"field":"lo","type":"quantitative","scale":{"domain":[0,72],"range":[14,141.5],"nice":false,"zero":false},"axis":{"values":[0,10,20,30,40,50,60,70],"labelExpr":"datum.value % 20 == 0 ? datum.label : ''","offset":-23,"title":null,"grid":false,"tickSize":4,"tickColor":"#999999","domainColor":"#999999","labelFont":"Liberation Sans","labelFontSize":15,"labelColor":"#222","labelPadding":2,"labelFlush":false,"labelOverlap":false}},"x2":{"field":"q1"}}},
{"mark":{"type":"rule","strokeWidth":1.2},"encoding":{"x":{"field":"q3","type":"quantitative"},"x2":{"field":"hi"}}},
{"mark":{"type":"tick","filled":false,"thickness":0.6,"size":4,"strokeWidth":1.2,"opacity":1},"encoding":{"x":{"field":"lo","type":"quantitative"}}},
{"mark":{"type":"tick","filled":false,"thickness":0.6,"size":4,"strokeWidth":1.2,"opacity":1},"encoding":{"x":{"field":"hi","type":"quantitative"}}},
{"mark":{"type":"bar","filled":false,"strokeWidth":1.6},"encoding":{"x":{"field":"q1","type":"quantitative"},"x2":{"field":"q3"}}},
{"mark":{"type":"tick","filled":false,"thickness":0.5,"size":6,"strokeWidth":1.2,"opacity":1},"encoding":{"x":{"field":"md","type":"quantitative"}}}
]}
]},
{"width":155,"height":398,
"title":{"text":"Low water flow (enclosed)","frame":"group","anchor":"middle","offset":5,"font":"Liberation Serif","fontSize":12.5,"fontWeight":"normal","color":"#111"},
"view":{"stroke":"#a0a0a0","strokeWidth":1.5},
"layer":[
{"data":{"name":"taxa"},"transform":[{"filter":"datum.t != 'Others'"}],"mark":{"type":"rule","strokeDash":[2,2],"color":"#555555","strokeWidth":1},
"encoding":{"y":{"field":"t","type":"nominal","bandPosition":0,"scale":{"domain":["Others","Xanthomonadales","Vibrionales","Verrucomicrobiales","Sphingomonadales","Rhodobacterales","Oceanospirillales","Methylophilales","Bacillales","Alteromonadales","Actinobacteridae","Acidimicrobidae"],"range":[3,374],"paddingInner":0,"paddingOuter":0},"axis":null}}},
{"data":{"name":"boxes"},"transform":[{"filter":"datum.p == 'SL'"}],
"encoding":{
"y":{"field":"t","type":"nominal","scale":{"domain":["Others","Xanthomonadales","Vibrionales","Verrucomicrobiales","Sphingomonadales","Rhodobacterales","Oceanospirillales","Methylophilales","Bacillales","Alteromonadales","Actinobacteridae","Acidimicrobidae"],"range":[3,374],"paddingInner":0,"paddingOuter":0},"axis":null},
"yOffset":{"field":"d","type":"nominal","scale":{"domain":["Day 1","Day 5","Day 10"],"paddingInner":0.25,"paddingOuter":0.3}},
"color":{"field":"d","type":"nominal","scale":{"domain":["Day 1","Day 5","Day 10"],"range":["#FFC20E","#F5901E","#D2232A"]},"legend":null}},
"layer":[
{"mark":{"type":"rule","strokeWidth":1.2},"encoding":{"x":{"field":"lo","type":"quantitative","scale":{"domain":[0,72],"range":[14,141.5],"nice":false,"zero":false},"axis":{"values":[0,10,20,30,40,50,60,70],"labelExpr":"datum.value % 20 == 0 ? datum.label : ''","offset":-23,"title":null,"grid":false,"tickSize":4,"tickColor":"#999999","domainColor":"#999999","labelFont":"Liberation Sans","labelFontSize":15,"labelColor":"#222","labelPadding":2,"labelFlush":false,"labelOverlap":false}},"x2":{"field":"q1"}}},
{"mark":{"type":"rule","strokeWidth":1.2},"encoding":{"x":{"field":"q3","type":"quantitative"},"x2":{"field":"hi"}}},
{"mark":{"type":"tick","filled":false,"thickness":0.6,"size":4,"strokeWidth":1.2,"opacity":1},"encoding":{"x":{"field":"lo","type":"quantitative"}}},
{"mark":{"type":"tick","filled":false,"thickness":0.6,"size":4,"strokeWidth":1.2,"opacity":1},"encoding":{"x":{"field":"hi","type":"quantitative"}}},
{"mark":{"type":"bar","filled":false,"strokeWidth":1.6},"encoding":{"x":{"field":"q1","type":"quantitative"},"x2":{"field":"q3"}}},
{"mark":{"type":"tick","filled":false,"thickness":0.5,"size":6,"strokeWidth":1.2,"opacity":1},"encoding":{"x":{"field":"md","type":"quantitative"}}}
]},
{"data":{"name":"sig"},
"encoding":{
"y":{"field":"t","type":"nominal","scale":{"domain":["Others","Xanthomonadales","Vibrionales","Verrucomicrobiales","Sphingomonadales","Rhodobacterales","Oceanospirillales","Methylophilales","Bacillales","Alteromonadales","Actinobacteridae","Acidimicrobidae"],"range":[3,374],"paddingInner":0,"paddingOuter":0},"axis":null},
"yOffset":{"field":"d","type":"nominal","scale":{"domain":["Day 1","Day 5","Day 10"],"paddingInner":0.25,"paddingOuter":0.3}},
"x":{"field":"x","type":"quantitative"}},
"layer":[
{"mark":{"type":"text","text":"|","font":"Liberation Sans","fontSize":22,"color":"#111","baseline":"middle","dy":1}},
{"mark":{"type":"text","text":"*","font":"Liberation Sans","fontSize":20,"color":"#111","baseline":"middle","dx":9,"dy":5}}
]}
]},
{"width":155,"height":398,
"title":{"text":"High water flow (un-enclosed)","frame":"group","anchor":"middle","offset":5,"font":"Liberation Serif","fontSize":12.5,"fontWeight":"normal","color":"#111"},
"view":{"stroke":"#a0a0a0","strokeWidth":1.5},
"layer":[
{"data":{"name":"taxa"},"transform":[{"filter":"datum.t != 'Others'"}],"mark":{"type":"rule","strokeDash":[2,2],"color":"#555555","strokeWidth":1},
"encoding":{"y":{"field":"t","type":"nominal","bandPosition":0,"scale":{"domain":["Others","Xanthomonadales","Vibrionales","Verrucomicrobiales","Sphingomonadales","Rhodobacterales","Oceanospirillales","Methylophilales","Bacillales","Alteromonadales","Actinobacteridae","Acidimicrobidae"],"range":[3,374],"paddingInner":0,"paddingOuter":0},"axis":null}}},
{"data":{"name":"boxes"},"transform":[{"filter":"datum.p == 'WH'"}],
"encoding":{
"y":{"field":"t","type":"nominal","scale":{"domain":["Others","Xanthomonadales","Vibrionales","Verrucomicrobiales","Sphingomonadales","Rhodobacterales","Oceanospirillales","Methylophilales","Bacillales","Alteromonadales","Actinobacteridae","Acidimicrobidae"],"range":[3,374],"paddingInner":0,"paddingOuter":0},"axis":null},
"yOffset":{"field":"d","type":"nominal","scale":{"domain":["Day 1","Day 5","Day 10"],"paddingInner":0.25,"paddingOuter":0.3}},
"color":{"field":"d","type":"nominal","scale":{"domain":["Day 1","Day 5","Day 10"],"range":["#48CDF2","#1F6FE5","#7B2FE8"]},"legend":{"orient":"top-right","offset":3,"title":"Days","titleFont":"Liberation Serif","titleFontSize":12,"titleFontWeight":"normal","titleColor":"#111","labelFont":"Liberation Serif","labelFontSize":12,"labelColor":"#111","symbolType":"stroke","symbolSize":130,"symbolStrokeWidth":1.6,"fillColor":"white","strokeColor":"#999999","padding":5,"rowPadding":1.5,"titlePadding":3,"labelOffset":4}}},
"layer":[
{"mark":{"type":"rule","strokeWidth":1.2},"encoding":{"x":{"field":"lo","type":"quantitative","scale":{"domain":[0,72],"range":[14,141.5],"nice":false,"zero":false},"axis":{"values":[0,10,20,30,40,50,60,70],"labelExpr":"datum.value % 20 == 0 ? datum.label : ''","offset":-23,"title":null,"grid":false,"tickSize":4,"tickColor":"#999999","domainColor":"#999999","labelFont":"Liberation Sans","labelFontSize":15,"labelColor":"#222","labelPadding":2,"labelFlush":false,"labelOverlap":false}},"x2":{"field":"q1"}}},
{"mark":{"type":"rule","strokeWidth":1.2},"encoding":{"x":{"field":"q3","type":"quantitative"},"x2":{"field":"hi"}}},
{"mark":{"type":"tick","filled":false,"thickness":0.6,"size":4,"strokeWidth":1.2,"opacity":1},"encoding":{"x":{"field":"lo","type":"quantitative"}}},
{"mark":{"type":"tick","filled":false,"thickness":0.6,"size":4,"strokeWidth":1.2,"opacity":1},"encoding":{"x":{"field":"hi","type":"quantitative"}}},
{"mark":{"type":"bar","filled":false,"strokeWidth":1.6},"encoding":{"x":{"field":"q1","type":"quantitative"},"x2":{"field":"q3"}}},
{"mark":{"type":"tick","filled":false,"thickness":0.5,"size":6,"strokeWidth":1.2,"opacity":1},"encoding":{"x":{"field":"md","type":"quantitative"}}}
]}
]},
{"width":155,"height":398,
"title":{"text":"Low water flow (enclosed)","frame":"group","anchor":"middle","offset":5,"font":"Liberation Serif","fontSize":12.5,"fontWeight":"normal","color":"#111"},
"view":{"stroke":"#a0a0a0","strokeWidth":1.5},
"layer":[
{"data":{"name":"taxa"},"transform":[{"filter":"datum.t != 'Others'"}],"mark":{"type":"rule","strokeDash":[2,2],"color":"#555555","strokeWidth":1},
"encoding":{"y":{"field":"t","type":"nominal","bandPosition":0,"scale":{"domain":["Others","Xanthomonadales","Vibrionales","Verrucomicrobiales","Sphingomonadales","Rhodobacterales","Oceanospirillales","Methylophilales","Bacillales","Alteromonadales","Actinobacteridae","Acidimicrobidae"],"range":[3,374],"paddingInner":0,"paddingOuter":0},"axis":null}}},
{"data":{"name":"boxes"},"transform":[{"filter":"datum.p == 'WL'"}],
"encoding":{
"y":{"field":"t","type":"nominal","scale":{"domain":["Others","Xanthomonadales","Vibrionales","Verrucomicrobiales","Sphingomonadales","Rhodobacterales","Oceanospirillales","Methylophilales","Bacillales","Alteromonadales","Actinobacteridae","Acidimicrobidae"],"range":[3,374],"paddingInner":0,"paddingOuter":0},"axis":null},
"yOffset":{"field":"d","type":"nominal","scale":{"domain":["Day 1","Day 5","Day 10"],"paddingInner":0.25,"paddingOuter":0.3}},
"color":{"field":"d","type":"nominal","scale":{"domain":["Day 1","Day 5","Day 10"],"range":["#48CDF2","#1F6FE5","#7B2FE8"]},"legend":null}},
"layer":[
{"mark":{"type":"rule","strokeWidth":1.2},"encoding":{"x":{"field":"lo","type":"quantitative","scale":{"domain":[0,72],"range":[14,141.5],"nice":false,"zero":false},"axis":{"values":[0,10,20,30,40,50,60,70],"labelExpr":"datum.value % 20 == 0 ? datum.label : ''","offset":-23,"title":null,"grid":false,"tickSize":4,"tickColor":"#999999","domainColor":"#999999","labelFont":"Liberation Sans","labelFontSize":15,"labelColor":"#222","labelPadding":2,"labelFlush":false,"labelOverlap":false}},"x2":{"field":"q1"}}},
{"mark":{"type":"rule","strokeWidth":1.2},"encoding":{"x":{"field":"q3","type":"quantitative"},"x2":{"field":"hi"}}},
{"mark":{"type":"tick","filled":false,"thickness":0.6,"size":4,"strokeWidth":1.2,"opacity":1},"encoding":{"x":{"field":"lo","type":"quantitative"}}},
{"mark":{"type":"tick","filled":false,"thickness":0.6,"size":4,"strokeWidth":1.2,"opacity":1},"encoding":{"x":{"field":"hi","type":"quantitative"}}},
{"mark":{"type":"bar","filled":false,"strokeWidth":1.6},"encoding":{"x":{"field":"q1","type":"quantitative"},"x2":{"field":"q3"}}},
{"mark":{"type":"tick","filled":false,"thickness":0.5,"size":6,"strokeWidth":1.2,"opacity":1},"encoding":{"x":{"field":"md","type":"quantitative"}}}
]}
]}
]}
]}
]}
]
}
